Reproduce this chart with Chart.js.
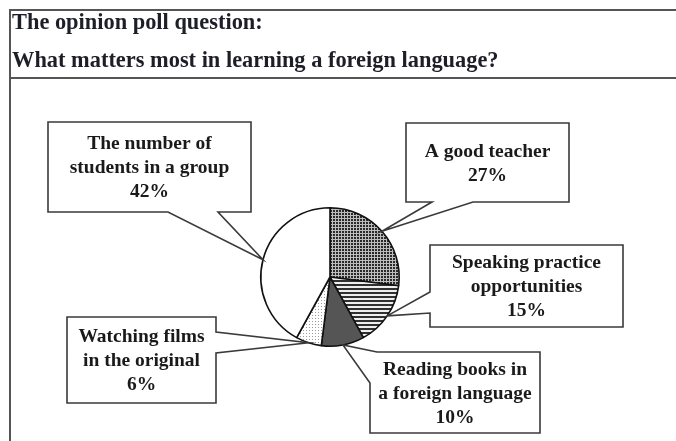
<!DOCTYPE html>
<html>
<head>
<meta charset="utf-8">
<script src="https://cdn.jsdelivr.net/npm/chart.js@4.4.0/dist/chart.umd.min.js"></script>
<style>
    body { margin: 0; background: #fff; }
    #page { position: relative; width: 676px; height: 441px; overflow: hidden; }
    .linha { position: absolute; background: #555; }
    .pergunta {
        position: absolute; left: 12px;
        font-family: "Liberation Serif", "Times New Roman", serif;
        font-weight: bold; font-size: 22.4px; line-height: 25px; color: #1e1e28; white-space: nowrap;
    }
    #grafico { position: absolute; left: 0; top: 0; }
</style>
</head>
<body>
<div id="page">
    <canvas id="grafico" width="676" height="441"></canvas>
    <div class="linha" style="left:9px; top:9px; width:667px; height:2px;"></div>
    <div class="linha" style="left:9px; top:77px; width:667px; height:2px;"></div>
    <div class="linha" style="left:9px; top:9px; width:2px; height:432px;"></div>
    <div class="pergunta" style="top:9px;">The opinion poll question:</div>
    <div class="pergunta" style="top:47px;">What matters most in learning a foreign language?</div>
</div>

<script>
// dados do grafico (do topo, sentido horario)
const categorias = [
    ['A good teacher'],
    ['Speaking practice', 'opportunities'],
    ['Reading books in', 'a foreign language'],
    ['Watching films', 'in the original'],
    ['The number of', 'students in a group']
];
const porcentagens = [27, 15, 10, 6, 42];

// caixas dos rotulos: retangulo + contorno com a ponta ('TIP')
const caixas = [
    { x: 406, y: 123, w: 163, h: 79, contorno: [[406,123],[569,123],[569,202],[473,202],'TIP',[432,202],[406,202]] },
    { x: 430, y: 245, w: 193, h: 82, contorno: [[430,245],[623,245],[623,327],[430,327],[430,313],'TIP',[430,292]] },
    { x: 370, y: 352, w: 170, h: 81, contorno: [[377,352],[540,352],[540,433],[370,433],[370,383],'TIP'] },
    { x: 67, y: 317, w: 149, h: 86, contorno: [[67,317],[216,317],[216,332],'TIP',[216,353],[216,403],[67,403]] },
    { x: 48, y: 122, w: 203, h: 90, contorno: [[48,122],[251,122],[251,212],[218,212],'TIP',[168,212],[48,212]] }
];

function criarPadrao(tam, desenhar) {
    let c = document.createElement('canvas');
    c.width = tam; c.height = tam;
    let g = c.getContext('2d');
    desenhar(g);
    return document.getElementById('grafico').getContext('2d').createPattern(c, 'repeat');
}

const pontilhadoEscuro = criarPadrao(3, function (g) {
    g.fillStyle = '#bdbdbd'; g.fillRect(0, 0, 3, 3);
    g.fillStyle = '#2a2a2a'; g.fillRect(0, 0, 2, 2);
});
const listras = criarPadrao(4, function (g) {
    g.fillStyle = '#eeeeee'; g.fillRect(0, 0, 4, 4);
    g.fillStyle = '#303030'; g.fillRect(0, 0, 4, 2);
});
const pontilhadoClaro = criarPadrao(3, function (g) {
    g.fillStyle = '#ffffff'; g.fillRect(0, 0, 3, 3);
    g.fillStyle = '#9a9a9a'; g.fillRect(0, 0, 1, 1);
});

const rotulos = {
    id: 'rotulos',
    afterDraw(chart) {
        const ctx = chart.ctx;
        const arcos = chart.getDatasetMeta(0).data;
        ctx.save();
        for (let i = 0; i < arcos.length; i++) {
            const a = arcos[i].getProps(['x', 'y', 'startAngle', 'endAngle', 'outerRadius'], true);
            const meio = (a.startAngle + a.endAngle) / 2;
            const ponta = [a.x + Math.cos(meio) * a.outerRadius, a.y + Math.sin(meio) * a.outerRadius];
            const cx = caixas[i];

            ctx.beginPath();
            cx.contorno.forEach(function (p, k) {
                let pt = p === 'TIP' ? ponta : p;
                if (k == 0) ctx.moveTo(pt[0], pt[1]); else ctx.lineTo(pt[0], pt[1]);
            });
            ctx.closePath();
            ctx.fillStyle = '#fff';
            ctx.fill();
            ctx.lineWidth = 1.6;
            ctx.strokeStyle = '#3a3a3a';
            ctx.stroke();

            let linhas = categorias[i].concat([porcentagens[i] + '%']);
            ctx.fillStyle = '#1a1a1a';
            ctx.font = 'bold 19.5px "Liberation Serif", serif';
            ctx.textAlign = 'center';
            ctx.textBaseline = 'middle';
            let alt = 24;
            let y0 = cx.y + cx.h / 2 - (linhas.length - 1) * alt / 2 + 1;
            linhas.forEach(function (t, k) {
                ctx.fillText(t, cx.x + cx.w / 2, y0 + k * alt);
            });
        }
        ctx.restore();
    }
};

let grafico = new Chart(document.getElementById('grafico'), {
    type: 'pie',
    data: {
        labels: categorias.map(function (c) { return c.join(' '); }),
        datasets: [{
            data: porcentagens,
            backgroundColor: [pontilhadoEscuro, listras, '#555555', pontilhadoClaro, '#ffffff'],
            borderColor: '#111',
            borderWidth: 1.6
        }]
    },
    options: {
        responsive: false,
        animation: false,
        layout: { padding: { left: 260, right: 276, top: 207, bottom: 94 } },
        plugins: { legend: { display: false }, tooltip: { enabled: false } }
    },
    plugins: [rotulos]
});
</script>
</body>
</html>
